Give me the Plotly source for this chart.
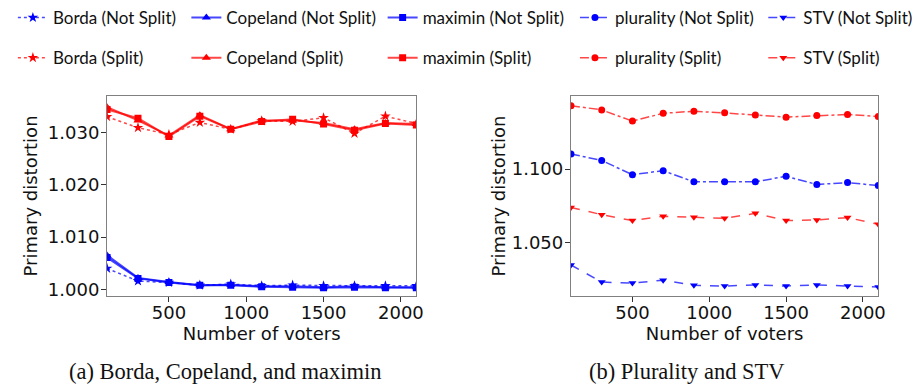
import plotly.graph_objects as go

voters = [100, 300, 500, 700, 900, 1100, 1300, 1500, 1700, 1900, 2100]

borda_ns = [1.0040, 1.0016, 1.0013, 1.0008, 1.0010, 1.0007, 1.0008, 1.0007, 1.0007, 1.0007, 1.0007]
copeland_ns = [1.0065, 1.0022, 1.0014, 1.0008, 1.0009, 1.0006, 1.0006, 1.0004, 1.0006, 1.0004, 1.0004]
maximin_ns = [1.0061, 1.0021, 1.0013, 1.0008, 1.0008, 1.0005, 1.0004, 1.0003, 1.0004, 1.0003, 1.0003]
borda_s = [1.0330, 1.0309, 1.0296, 1.0319, 1.0306, 1.0322, 1.0321, 1.0328, 1.0298, 1.0331, 1.0317]
copeland_s = [1.0348, 1.0323, 1.0294, 1.0333, 1.0306, 1.0323, 1.0323, 1.0318, 1.0306, 1.0318, 1.0316]
maximin_s = [1.0344, 1.0327, 1.0292, 1.0331, 1.0306, 1.0321, 1.0325, 1.0316, 1.0304, 1.0317, 1.0314]

plurality_ns = [1.1103, 1.1058, 1.0962, 1.0989, 1.0913, 1.0913, 1.0913, 1.0951, 1.0895, 1.0908, 1.0888]
plurality_s = [1.1431, 1.1402, 1.1326, 1.1379, 1.1393, 1.1382, 1.1368, 1.1353, 1.1364, 1.1371, 1.1357]
stv_ns = [1.0348, 1.0232, 1.0225, 1.0245, 1.0210, 1.0205, 1.0212, 1.0205, 1.0212, 1.0205, 1.0199]
stv_s = [1.0739, 1.0690, 1.0650, 1.0679, 1.0672, 1.0665, 1.0699, 1.0650, 1.0654, 1.0670, 1.0625]

left_yticks = [1.000, 1.010, 1.020, 1.030]
right_yticks = [1.050, 1.100]
xticks = [500, 1000, 1500, 2000]
captions = ["(a) Borda, Copeland, and maximin", "(b) Plurality and STV"]

BLUE = "#0000ff"
RED = "#ff0000"
BLUE_L = "rgba(0,0,255,0.72)"
RED_L = "rgba(255,0,0,0.72)"

fig = go.Figure()

def add(y, name, color, lcolor, dash, symbol, size, width, xa, ya, legend, group):
    fig.add_trace(go.Scatter(
        x=voters, y=y, name=name, mode="lines+markers",
        line=dict(color=lcolor, dash=dash, width=width),
        marker=dict(color=color, symbol=symbol, size=size),
        xaxis=xa, yaxis=ya, legend=legend, legendgroup=group,
    ))

add(borda_ns, "Borda (Not Split)", BLUE, BLUE_L, "dot", "star", 8, 1.5, "x", "y", "legend", "g1")
add(borda_s, "Borda (Split)", RED, RED_L, "dot", "star", 8, 1.5, "x", "y", "legend", "g2")
add(copeland_ns, "Copeland (Not Split)", BLUE, BLUE_L, "solid", "triangle-up", 8, 2, "x", "y", "legend2", "g3")
add(copeland_s, "Copeland (Split)", RED, RED_L, "solid", "triangle-up", 8, 2, "x", "y", "legend2", "g4")
add(maximin_ns, "maximin (Not Split)", BLUE, BLUE_L, "solid", "square", 7, 2, "x", "y", "legend3", "g5")
add(maximin_s, "maximin (Split)", RED, RED_L, "solid", "square", 7, 2, "x", "y", "legend3", "g6")
add(plurality_ns, "plurality (Not Split)", BLUE, BLUE_L, "dashdot", "circle", 7, 1.5, "x2", "y2", "legend4", "g7")
add(plurality_s, "plurality (Split)", RED, RED_L, "dashdot", "circle", 7, 1.5, "x2", "y2", "legend4", "g8")
add(stv_ns, "STV (Not Split)", BLUE, BLUE_L, "dash", "triangle-down", 7, 1.5, "x2", "y2", "legend5", "g9")
add(stv_s, "STV (Split)", RED, RED_L, "dash", "triangle-down", 7, 1.5, "x2", "y2", "legend5", "g10")

W, H = 918, 391
tickfont = dict(family="DejaVu Sans", size=18, color="#111111")
axis_common = dict(showgrid=False, zeroline=False, showline=True, mirror=True,
                   linecolor="#808080", linewidth=1.2, ticks="outside", ticklen=5,
                   tickcolor="#333333", tickfont=tickfont)
title_font = dict(family="DejaVu Sans", size=18, color="#111111")

fig.update_layout(
    width=W, height=H, autosize=False,
    margin=dict(l=0, r=0, t=0, b=0),
    paper_bgcolor="white", plot_bgcolor="white",
    showlegend=True,
    xaxis=dict(domain=[108 / W, 420 / W], range=[100, 2100], tickvals=xticks,
               ticklabelstandoff=-5,
               title=dict(text="Number of voters", font=title_font, standoff=0),
               anchor="y", **axis_common),
    yaxis=dict(domain=[1 - 298 / H, 1 - 95 / H], range=[0.9987, 1.0370], tickvals=left_yticks,
               tickformat=".3f", anchor="x", ticklabelstandoff=-2,
               title=dict(text="Primary distortion", font=title_font, standoff=5),
               **axis_common),
    xaxis2=dict(domain=[576 / W, 886 / W], range=[100, 2100], tickvals=xticks,
                ticklabelstandoff=-5,
                title=dict(text="Number of voters", font=title_font, standoff=0),
                anchor="y2", **axis_common),
    yaxis2=dict(domain=[1 - 298 / H, 1 - 95 / H], range=[1.0136, 1.1498], tickvals=right_yticks,
                tickformat=".3f", anchor="x2", ticklabelstandoff=-2,
                title=dict(text="Primary distortion", font=title_font, standoff=1),
                **axis_common),
)

legend_font = dict(family="Lato", size=17, color="#111111")
legend_x = [13, 188, 386, 580, 770]
for i, lx in enumerate(legend_x):
    key = "legend" if i == 0 else f"legend{i + 1}"
    fig.update_layout({key: dict(x=lx / W, xanchor="left", y=1 + 2 / H, yanchor="top",
                                 orientation="v", traceorder="grouped", tracegroupgap=15,
                                 font=legend_font, bgcolor="rgba(0,0,0,0)", borderwidth=0)})

cap_font = dict(family="Liberation Serif", size=22.5, color="#111111")
fig.add_annotation(text=captions[0], x=(65 + 388) / 2 / W, y=1 - 374 / H, xref="paper", yref="paper",
                   showarrow=False, xanchor="center", yanchor="middle", font=cap_font)
fig.add_annotation(text=captions[1], x=(590 + 797) / 2 / W, y=1 - 374 / H, xref="paper", yref="paper",
                   showarrow=False, xanchor="center", yanchor="middle", font=cap_font)

fig.write_html("out.html", config={"displayModeBar": False},
               post_script="document.body.style.margin='0';")
